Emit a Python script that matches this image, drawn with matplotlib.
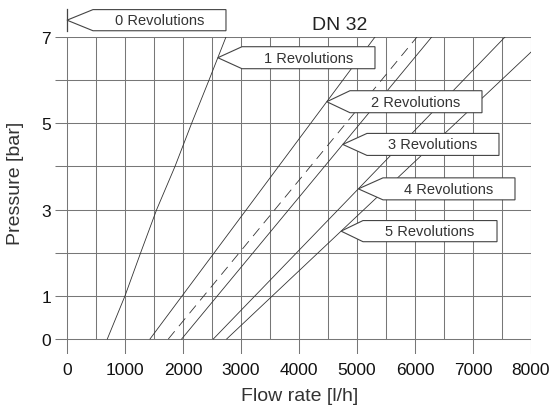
import matplotlib.pyplot as plt
import numpy as np
from matplotlib.patches import Polygon

plt.rcParams['font.family'] = ['Liberation Sans', 'DejaVu Sans']

# flow rate [l/h] against pressure [bar]
rev1_flow = [695, 1000, 1270, 1546, 1862, 2149, 2448, 2741]
rev1_press = [0, 1, 2, 3, 4, 5, 6, 7]
rev2_flow = [1431, 5310]
rev2_press = [0, 7]
dashed_flow = [1747, 6034]
dashed_press = [0, 7]
rev3_flow = [1977, 6288]
rev3_press = [0, 7]
rev4_flow = [2523, 7552]
rev4_press = [0, 7]
rev5_flow = [2753, 8000]
rev5_press = [0, 6.65]

labels = ['0 Revolutions', '1 Revolutions', '2 Revolutions', '3 Revolutions',
          '4 Revolutions', '5 Revolutions']
label_press = [7.39, 6.52, 5.5, 4.51, 3.48, 2.5]  # where each tag points

x_ticks = [0, 1000, 2000, 3000, 4000, 5000, 6000, 7000, 8000]
y_ticks = [0, 1, 3, 5, 7]

fig = plt.figure(figsize=(5.55, 4.10), dpi=100)
ax = fig.add_axes([55.4 / 555, 55 / 410, 475.6 / 555, 317 / 410])
ax.set_xlim(-200, 8000)
ax.set_ylim(-0.348, 7)
for s in ax.spines.values():
    s.set_visible(False)

grid_col = '#777777'
ax.hlines(range(8), -200, 8000, color=grid_col, lw=0.75, zorder=1)
for xv in range(0, 8001, 500):
    low = -0.348 if xv % 1000 == 0 else 0
    ax.vlines(xv, low, 7, color=grid_col, lw=0.75, zorder=1)

line_col = '#333333'
curves = [(rev1_flow, rev1_press), (rev2_flow, rev2_press), (rev3_flow, rev3_press),
          (rev4_flow, rev4_press), (rev5_flow, rev5_press)]
for f, p in curves:
    ax.plot(f, p, color=line_col, lw=0.6, zorder=2)
ax.plot(dashed_flow, dashed_press, color=line_col, lw=0.6, ls=(0, (12, 8)), zorder=2)

# tag shaped callouts: (left of box, right of box, half height) in data units
tips_x = [0] + [np.interp(py, p, f) for (f, p), py in zip(curves, label_press[1:])]
box_geom = [(448, 2741, 0.245), (3017, 5310, 0.255), (4879, 7155, 0.255),
            (5172, 7448, 0.255), (5448, 7724, 0.255), (5103, 7414, 0.245)]
for lab, tx, ty, (bl, br, hh) in zip(labels, tips_x, label_press, box_geom):
    poly = Polygon([(tx, ty), (bl, ty + hh), (br, ty + hh), (br, ty - hh), (bl, ty - hh)],
                   closed=True, facecolor='white', edgecolor='#444444', lw=0.8,
                   zorder=4, clip_on=False)
    ax.add_patch(poly)
    ax.text((bl + br) / 2, ty, lab, ha='center', va='center', fontsize=10.5,
            color='#333333', zorder=5)
# small bar marking the zero-flow axis above the chart
ax.plot([0, 0], [7.14, 7.65], color='#444444', lw=0.9, clip_on=False, zorder=6)

ax.set_xticks(x_ticks)
ax.set_xticklabels([str(v) for v in x_ticks])
ax.set_yticks(y_ticks)
ax.set_yticklabels([str(v) for v in y_ticks])
ax.tick_params(axis='x', length=0, pad=6, labelsize=12.5, colors='#111111')
ax.tick_params(axis='y', length=0, pad=3, labelsize=12.5, colors='#111111')

fig.text(300 / 555, 1 - 397 / 410, 'Flow rate [l/h]', ha='center', va='center',
         fontsize=14, color='#333333')
fig.text(16 / 555, 1 - 183 / 410, 'Pressure [bar]', ha='center', va='center',
         rotation=90, fontsize=14, color='#333333')
fig.text(340 / 555, 1 - 25 / 410, 'DN 32', ha='center', va='center', fontsize=14,
         color='#222222')

fig.savefig('out.png', dpi=100)
